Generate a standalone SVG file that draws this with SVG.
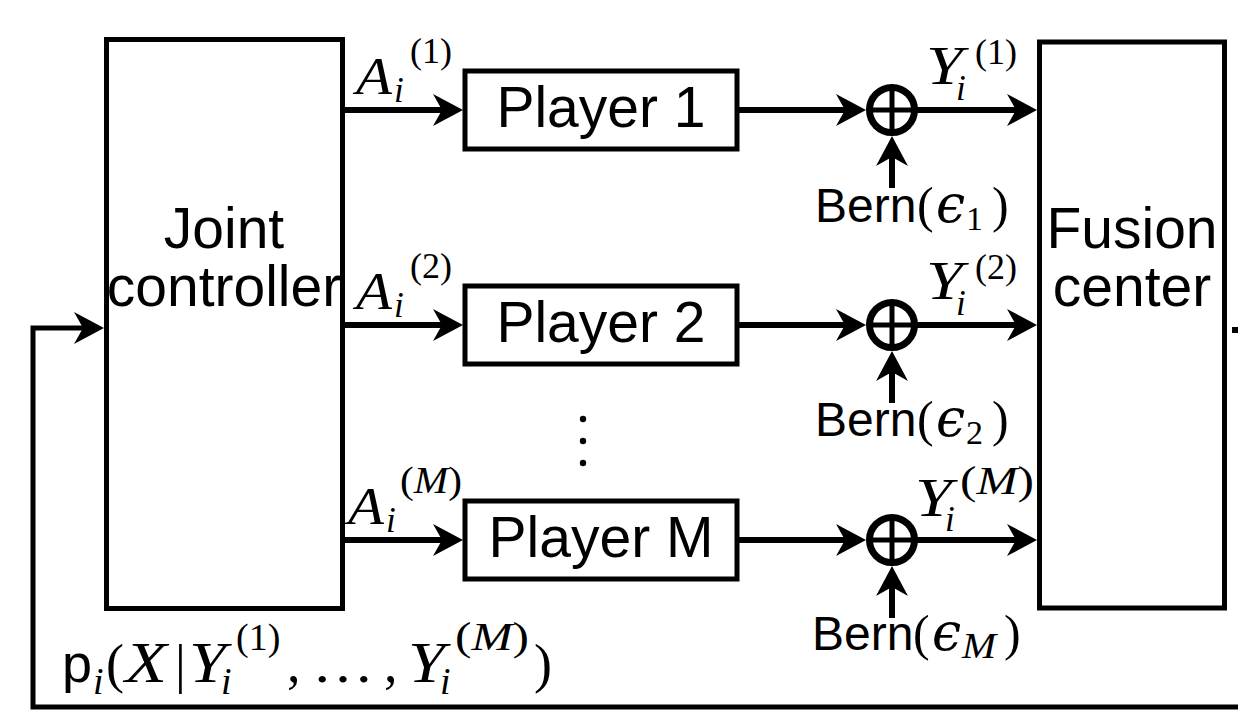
<svg xmlns="http://www.w3.org/2000/svg" width="1238" height="710" viewBox="0 0 1238 710">
<style>
.box{fill:#fff;stroke:#000;stroke-width:5}
.ln{fill:none;stroke:#000;stroke-width:6}
.lbl{font-family:"Liberation Sans",Arial,sans-serif;font-size:57px;fill:#000}
.sf{font-family:"Liberation Sans",Arial,sans-serif;font-size:48px;fill:#000}
.mi{font-family:"Liberation Serif","Times New Roman",serif;font-style:italic;fill:#000}
.mr{font-family:"Liberation Serif","Times New Roman",serif;fill:#000}
.it{font-style:italic}
.eps{font-family:"DejaVu Serif",serif;font-style:italic;fill:#000}
.xor{fill:none;stroke:#000;stroke-width:7}
.xl{stroke:#000;stroke-width:5}
</style>
<defs>
<marker id="ah" markerUnits="userSpaceOnUse" viewBox="-32 -17 34 34" refX="-8" refY="0" markerWidth="34" markerHeight="34" orient="auto">
<path d="M0,0 L-30,-16 L-21,0 L-30,16 Z" fill="#000"/>
</marker>
</defs>

<g id="connectors">
<line class="ln" x1="343" y1="110" x2="455" y2="110" marker-end="url(#ah)"/>
<line class="ln" x1="343" y1="325" x2="455" y2="325" marker-end="url(#ah)"/>
<line class="ln" x1="343" y1="540" x2="455" y2="540" marker-end="url(#ah)"/>
<line class="ln" x1="737" y1="110" x2="858" y2="110" marker-end="url(#ah)"/>
<line class="ln" x1="737" y1="325" x2="858" y2="325" marker-end="url(#ah)"/>
<line class="ln" x1="737" y1="540" x2="858" y2="540" marker-end="url(#ah)"/>
<line class="ln" x1="914" y1="110" x2="1029" y2="110" marker-end="url(#ah)"/>
<line class="ln" x1="914" y1="325" x2="1029" y2="325" marker-end="url(#ah)"/>
<line class="ln" x1="914" y1="540" x2="1029" y2="540" marker-end="url(#ah)"/>
<line class="ln" x1="892" y1="188" x2="892" y2="144" marker-end="url(#ah)"/>
<line class="ln" x1="892" y1="403" x2="892" y2="359" marker-end="url(#ah)"/>
<line class="ln" x1="892" y1="618" x2="892" y2="574" marker-end="url(#ah)"/>
<polyline fill="none" stroke="#000" stroke-width="5" points="1238,707 33,707 33,328 96,328" marker-end="url(#ah)"/>
<rect x="1232" y="327" width="6" height="6" fill="#000"/>
</g>

<g id="xor1"><circle class="xor" cx="892" cy="110" r="22.5"/><line class="xl" x1="869" y1="110" x2="915" y2="110"/><line class="xl" x1="892" y1="87" x2="892" y2="133"/></g>
<g id="xor2"><circle class="xor" cx="892" cy="325" r="22.5"/><line class="xl" x1="869" y1="325" x2="915" y2="325"/><line class="xl" x1="892" y1="302" x2="892" y2="348"/></g>
<g id="xorM"><circle class="xor" cx="892" cy="540" r="22.5"/><line class="xl" x1="869" y1="540" x2="915" y2="540"/><line class="xl" x1="892" y1="517" x2="892" y2="563"/></g>

<g id="controller">
<rect class="box" x="106.5" y="39.5" width="236" height="569"/>
<text class="lbl" x="224" y="248" text-anchor="middle">Joint</text>
<text class="lbl" x="224" y="306" text-anchor="middle">controller</text>
</g>

<g id="fusion">
<rect class="box" x="1039.5" y="42" width="185" height="566"/>
<text class="lbl" x="1132" y="248" text-anchor="middle">Fusion</text>
<text class="lbl" x="1132" y="306" text-anchor="middle">center</text>
</g>

<g id="player1">
<rect class="box" x="465" y="71" width="272" height="78"/>
<text class="lbl" x="601" y="127" text-anchor="middle">Player 1</text>
</g>
<g id="player2">
<rect class="box" x="465" y="286" width="272" height="78"/>
<text class="lbl" x="601" y="342" text-anchor="middle">Player 2</text>
</g>
<g id="playerM">
<rect class="box" x="465" y="501" width="272" height="78"/>
<text class="lbl" x="601" y="557" text-anchor="middle">Player M</text>
</g>

<g id="dots">
<circle cx="583" cy="419" r="3.2"/><circle cx="583" cy="441" r="3.2"/><circle cx="583" cy="463" r="3.2"/>
</g>

<g id="labels-A">
<text class="mi" x="356" y="94" font-size="52" textLength="36" lengthAdjust="spacingAndGlyphs">A</text>
<text class="mi" x="394" y="102" font-size="35">i</text>
<text class="mr" x="410" y="63" font-size="36">(1)</text>

<text class="mi" x="356" y="309" font-size="52" textLength="36" lengthAdjust="spacingAndGlyphs">A</text>
<text class="mi" x="394" y="317" font-size="35">i</text>
<text class="mr" x="410" y="278" font-size="36">(2)</text>

<text class="mi" x="348" y="524" font-size="52" textLength="36" lengthAdjust="spacingAndGlyphs">A</text>
<text class="mi" x="386" y="532" font-size="35">i</text>
<text class="mr" x="400" y="493" font-size="38" textLength="62" lengthAdjust="spacingAndGlyphs">(<tspan class="it">M</tspan>)</text>
</g>

<g id="labels-Y">
<text class="mi" x="926" y="84" font-size="54" textLength="37" lengthAdjust="spacingAndGlyphs">Y</text>
<text class="mi" x="956" y="100" font-size="35">i</text>
<text class="mr" x="975" y="64" font-size="36">(1)</text>

<text class="mi" x="926" y="299" font-size="54" textLength="37" lengthAdjust="spacingAndGlyphs">Y</text>
<text class="mi" x="956" y="315" font-size="35">i</text>
<text class="mr" x="975" y="279" font-size="36">(2)</text>

<text class="mi" x="915" y="516" font-size="54" textLength="37" lengthAdjust="spacingAndGlyphs">Y</text>
<text class="mi" x="945" y="531" font-size="35">i</text>
<text class="mr" x="960" y="494" font-size="40" textLength="74" lengthAdjust="spacingAndGlyphs">(<tspan class="it">M</tspan>)</text>
</g>

<g id="labels-Bern">
<text class="sf" x="815" y="222">Bern</text>
<text class="mr" x="917" y="222" font-size="50">(</text>
<text class="eps" x="936" y="222" font-size="52">ϵ</text>
<text class="mr" x="966" y="230" font-size="34">1</text>
<text class="mr" x="992" y="222" font-size="50">)</text>

<text class="sf" x="815" y="436">Bern</text>
<text class="mr" x="917" y="436" font-size="50">(</text>
<text class="eps" x="936" y="436" font-size="52">ϵ</text>
<text class="mr" x="966" y="444" font-size="34">2</text>
<text class="mr" x="992" y="436" font-size="50">)</text>

<text class="sf" x="812" y="650">Bern</text>
<text class="mr" x="913" y="650" font-size="50">(</text>
<text class="eps" x="932" y="650" font-size="52">ϵ</text>
<text class="mi" x="962" y="658" font-size="36" textLength="34" lengthAdjust="spacingAndGlyphs">M</text>
<text class="mr" x="1004" y="650" font-size="50">)</text>
</g>

<g id="label-posterior">
<text class="sf" x="62" y="682" style="font-size:54px">p</text>
<text class="mi" x="93" y="694" font-size="38">i</text>
<text class="mr" x="106" y="682" font-size="54">(</text>
<text class="mi" x="125" y="682" font-size="56" textLength="42" lengthAdjust="spacingAndGlyphs">X</text>
<text class="mr" x="175" y="682" font-size="54">|</text>
<text class="mi" x="189" y="682" font-size="56" textLength="37" lengthAdjust="spacingAndGlyphs">Y</text>
<text class="mi" x="221" y="694" font-size="38">i</text>
<text class="mr" x="236" y="650" font-size="38">(1)</text>
<text class="mr" x="287" y="682" font-size="54">,</text>
<text class="mr" x="312" y="682" font-size="54" textLength="62" lengthAdjust="spacingAndGlyphs">…</text>
<text class="mr" x="384" y="682" font-size="54">,</text>
<text class="mi" x="408" y="682" font-size="56" textLength="37" lengthAdjust="spacingAndGlyphs">Y</text>
<text class="mi" x="440" y="694" font-size="38">i</text>
<text class="mr" x="455" y="650" font-size="40" textLength="74" lengthAdjust="spacingAndGlyphs">(<tspan class="it">M</tspan>)</text>
<text class="mr" x="534" y="682" font-size="54">)</text>
</g>
</svg>
